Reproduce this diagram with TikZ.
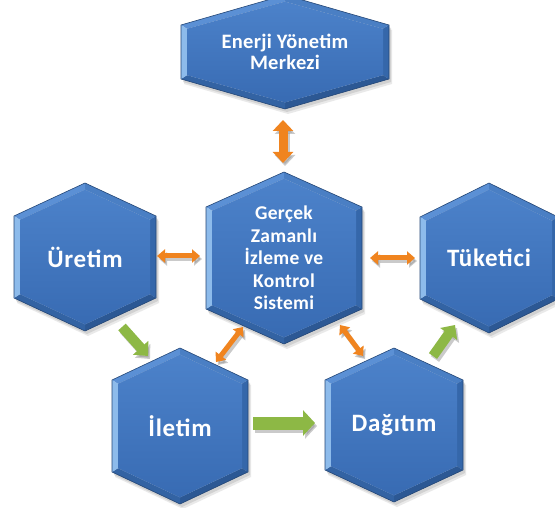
\documentclass[tikz,border=0pt]{standalone}
\usepackage{fontspec}
\setmainfont{Carlito}
\usetikzlibrary{arrows.meta,calc}
\definecolor{faceTop}{HTML}{4C82CA}
\definecolor{faceBot}{HTML}{386BB3}
\definecolor{bevUL}{HTML}{5B90D5}
\definecolor{bevUR}{HTML}{4A7FC4}
\definecolor{bevR}{HTML}{3567AA}
\definecolor{bevLR}{HTML}{2C5894}
\definecolor{bevLL}{HTML}{3363A3}
\definecolor{bevL}{HTML}{8DBBEB}
\definecolor{orangeA}{HTML}{F0841F}
\definecolor{greenA}{HTML}{8DB845}
\definecolor{shadowG}{HTML}{8A8A8A}
\tikzset{
  hextext/.style={text=white, align=center, font=\bfseries},
  bigtext/.style={hextext, font=\fontsize{25}{27}\selectfont\bfseries\addfontfeatures{LetterSpace=3}},
  midtext/.style={hextext, font=\fontsize{19.5}{22.5}\selectfont\bfseries\addfontfeatures{LetterSpace=1.5}},
  toptext/.style={hextext, font=\fontsize{20.5}{20.5}\selectfont\bfseries\addfontfeatures{LetterSpace=1.5}},
  oarrow/.style={orangeA, line width=5pt, {Triangle[width=13pt,length=8pt]}-{Triangle[width=13pt,length=8pt]}},
  oarrowbig/.style={orangeA, line width=9pt, {Triangle[width=20pt,length=11pt]}-{Triangle[width=20pt,length=11pt]}},
  oshadow/.style={shadowG, opacity=0.45, line width=5pt, {Triangle[width=13pt,length=8pt]}-{Triangle[width=13pt,length=8pt]}},
  oshadowbig/.style={shadowG, opacity=0.45, line width=9pt, {Triangle[width=20pt,length=11pt]}-{Triangle[width=20pt,length=11pt]}},
  garrow/.style={greenA, line width=10pt, -{Triangle[width=20pt,length=11pt]}},
  gshadow/.style={shadowG, opacity=0.45, line width=10pt, -{Triangle[width=20pt,length=11pt]}},
  garrowbig/.style={greenA, line width=13pt, -{Triangle[width=25pt,length=12pt]}},
  gshadowbig/.style={shadowG, opacity=0.45, line width=13pt, -{Triangle[width=25pt,length=12pt]}},
}
% #1 name, #2 cx, #3 cy, #4 hw, #5 he, #6 ht, #7 style, #8 text
\newcommand{\hexbox}[8]{%
  \fill[shadowG, opacity=0.18] ({#2+3},{#3-#6+5}) -- ({#2+#4+3},{#3-#5+5}) -- ({#2+#4+3},{#3+#5+5}) -- ({#2+3},{#3+#6+5}) -- ({#2-#4+3},{#3+#5+5}) -- ({#2-#4+3},{#3-#5+5}) -- cycle;
  \fill[shadowG, opacity=0.25] ({#2+2},{#3-#6+3}) -- ({#2+#4+2},{#3-#5+3}) -- ({#2+#4+2},{#3+#5+3}) -- ({#2+2},{#3+#6+3}) -- ({#2-#4+2},{#3+#5+3}) -- ({#2-#4+2},{#3-#5+3}) -- cycle;
  \coordinate (T) at ({#2},{#3-#6});
  \coordinate (UR) at ({#2+#4},{#3-#5});
  \coordinate (LR) at ({#2+#4},{#3+#5});
  \coordinate (B) at ({#2},{#3+#6});
  \coordinate (LL) at ({#2-#4},{#3+#5});
  \coordinate (UL) at ({#2-#4},{#3-#5});
  \coordinate (t) at ({#2},{#3-#6+6.6});
  \coordinate (ur) at ({#2+#4-6},{#3-#5+3.8});
  \coordinate (lr) at ({#2+#4-6},{#3+#5-3.8});
  \coordinate (b) at ({#2},{#3+#6-6.6});
  \coordinate (ll) at ({#2-#4+6},{#3+#5-3.8});
  \coordinate (ul) at ({#2-#4+6},{#3-#5+3.8});
  \fill[bevUL] (UL) -- (T) -- (t) -- (ul) -- cycle;
  \fill[bevUR] (T) -- (UR) -- (ur) -- (t) -- cycle;
  \fill[bevR] (UR) -- (LR) -- (lr) -- (ur) -- cycle;
  \fill[bevLR] (LR) -- (B) -- (b) -- (lr) -- cycle;
  \fill[bevLL] (B) -- (LL) -- (ll) -- (b) -- cycle;
  \fill[bevL] (LL) -- (UL) -- (ul) -- (ll) -- cycle;
  \shade[top color=faceTop, bottom color=faceBot] (t) -- (ur) -- (lr) -- (b) -- (ll) -- (ul) -- cycle;
  \draw[bevLR!80!black, line width=0.6pt, line join=round] (T) -- (UR) -- (LR) -- (B) -- (LL) -- (UL) -- cycle;
  \node[#7] (#1) at ({#2},{#3}) {#8};
}
\begin{document}
\begin{tikzpicture}[x=1pt, y=-1pt]
\clip (0,0) rectangle (555,508);
\fill[white] (0,0) rectangle (555,508);

\hexbox{ems}{285}{52}{104}{27}{57}{toptext}{Enerji Yönetim\\Merkezi}
\hexbox{gzik}{284}{258}{78}{51}{86}{midtext}{Gerçek\\Zamanlı\\İzleme ve\\Kontrol\\Sistemi}
\hexbox{uretim}{85}{257}{71}{41}{74}{bigtext}{Üretim}
\hexbox{tuketici}{489}{258}{69}{41}{75}{bigtext}{Tüketici}
\hexbox{iletim}{180}{426}{68}{46}{78}{bigtext}{İletim}
\hexbox{dagitim}{394}{425}{69}{45}{77}{bigtext}{Dağıtım}

% connector end points
\coordinate (emsA) at (283,120);
\coordinate (gzikA) at (283,163);
\coordinate (urA) at (157,256);
\coordinate (gzikB) at (200,256);
\coordinate (gzikC) at (370,258);
\coordinate (tukA) at (415,258);
\coordinate (ilA) at (216,362);
\coordinate (gzikD) at (243,327);
\coordinate (gzikE) at (340,325);
\coordinate (dagA) at (363,356);
\coordinate (urB) at (122,327);
\coordinate (ilB) at (148,356);
\coordinate (ilC) at (253,423);
\coordinate (dagB) at (315,423);
\coordinate (dagC) at (433,356);
\coordinate (tukB) at (455,325);

% shadows
\draw[oshadowbig] ([shift={(2,3)}]emsA) -- ([shift={(2,3)}]gzikA);
\draw[oshadow] ([shift={(2,3)}]urA) -- ([shift={(2,3)}]gzikB);
\draw[oshadow] ([shift={(2,3)}]gzikC) -- ([shift={(2,3)}]tukA);
\draw[oshadow] ([shift={(2,3)}]ilA) -- ([shift={(2,3)}]gzikD);
\draw[oshadow] ([shift={(2,3)}]gzikE) -- ([shift={(2,3)}]dagA);
\draw[gshadow] ([shift={(2,3)}]urB) -- ([shift={(2,3)}]ilB);
\draw[gshadowbig] ([shift={(2,3)}]ilC) -- ([shift={(2,3)}]dagB);
\draw[gshadow] ([shift={(2,3)}]dagC) -- ([shift={(2,3)}]tukB);

% connectors
\draw[oarrowbig] (emsA) -- (gzikA);
\draw[oarrow] (urA) -- (gzikB);
\draw[oarrow] (gzikC) -- (tukA);
\draw[oarrow] (ilA) -- (gzikD);
\draw[oarrow] (gzikE) -- (dagA);
\draw[garrow] (urB) -- (ilB);
\draw[garrowbig] (ilC) -- (dagB);
\draw[garrow] (dagC) -- (tukB);
\end{tikzpicture}
\end{document}
